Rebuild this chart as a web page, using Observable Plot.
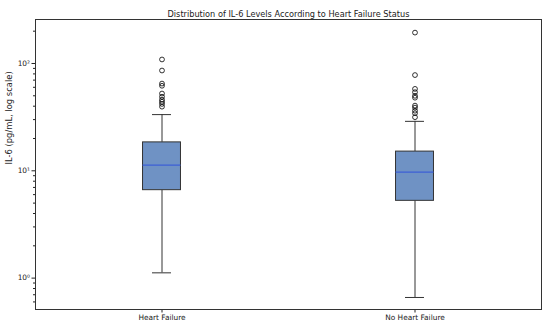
<!DOCTYPE html>
<html><head><meta charset="utf-8">
<script src="https://cdn.jsdelivr.net/npm/d3@7"></script>
<script src="https://cdn.jsdelivr.net/npm/@observablehq/plot@0.6"></script>
<style>body{margin:0;background:#fff}</style>
</head><body><div id="chart"></div>
<script>
const categories = ["Heart Failure", "No Heart Failure"];
const q1 = [6.6, 5.25];
const medians = [11.3, 9.7];
const q3 = [18.4, 15.1];
const whiskerLow = [1.12, 0.66];
const whiskerHigh = [33.4, 28.9];
const outliersHF = [109, 86, 65, 62, 52.5, 49, 46, 44, 42, 39.6];
const outliersNHF = [194, 78, 58, 54, 50, 48, 40.5, 38.8, 36.3, 34.4, 31.6];
const majorTicks = [1, 10, 100];
const tickLabels = ["10\u2070", "10\u00B9", "10\u00B2"];
const yLabel = "IL-6 (pg/mL, log scale)";
const title = "Distribution of IL-6 Levels According to Heart Failure Status";

const boxes = categories.map((c, i) => ({cat: c, pos: i + 1, q1: q1[i], med: medians[i], q3: q3[i], lo: whiskerLow[i], hi: whiskerHigh[i]}));
const outs = [
  ...outliersHF.map(v => ({pos: 1, v})),
  ...outliersNHF.map(v => ({pos: 2, v}))
];
const minor = [];
for (const d of [0.1, 1, 10, 100]) for (let k = 2; k <= 9; k++) minor.push(d * k);
const minorTicks = minor.filter(v => v > 0.51 && v < 257);

const halfBox = 0.075, halfCap = 0.0375;
const chart = Plot.plot({
  width: 550, height: 325,
  marginTop: 19, marginBottom: 16, marginLeft: 35, marginRight: 9,
  style: {fontFamily: "DejaVu Sans", fontSize: "7px", color: "#222", background: "#fff"},
  x: {type: "linear", domain: [0.5, 2.5]},
  y: {type: "log", domain: [0.51, 257]},
  marks: [
    Plot.axisX([1, 2], {tickSize: 3.5, tickPadding: 2, tickFormat: d => categories[d - 1], label: null, fontSize: 7.4, fill: "#222"}),
    Plot.axisY(majorTicks, {tickSize: 3.5, tickPadding: 2, tickFormat: d => tickLabels[majorTicks.indexOf(d)], label: null, fontSize: 7.4, fill: "#222"}),
    Plot.axisY(minorTicks, {tickSize: 2, tickFormat: () => "", label: null}),
    Plot.text([yLabel], {frameAnchor: "left", dx: -26, rotate: -90, fontSize: 8.4, fill: "#222"}),
    Plot.ruleX(boxes, {x: "pos", y1: "lo", y2: "q1", stroke: "#333", strokeWidth: 1}),
    Plot.ruleX(boxes, {x: "pos", y1: "q3", y2: "hi", stroke: "#333", strokeWidth: 1}),
    Plot.ruleY(boxes, {y: "lo", x1: d => d.pos - halfCap, x2: d => d.pos + halfCap, stroke: "#333", strokeWidth: 1}),
    Plot.ruleY(boxes, {y: "hi", x1: d => d.pos - halfCap, x2: d => d.pos + halfCap, stroke: "#333", strokeWidth: 1}),
    Plot.rect(boxes, {x1: d => d.pos - halfBox, x2: d => d.pos + halfBox, y1: "q1", y2: "q3", fill: "#6f92c4", stroke: "#333", strokeWidth: 1}),
    Plot.ruleY(boxes, {y: "med", x1: d => d.pos - halfBox, x2: d => d.pos + halfBox, stroke: "#3d5fd6", strokeWidth: 1.2}),
    Plot.dot(outs, {x: "pos", y: "v", r: 2.4, stroke: "#000", strokeWidth: 0.8, fill: "none"}),
    Plot.frame({stroke: "#333", strokeWidth: 1}),
    Plot.text([title], {frameAnchor: "top", dy: -8, fontSize: 8.2, fill: "#222"})
  ]
});
document.getElementById("chart").appendChild(chart);
</script>
</body></html>
